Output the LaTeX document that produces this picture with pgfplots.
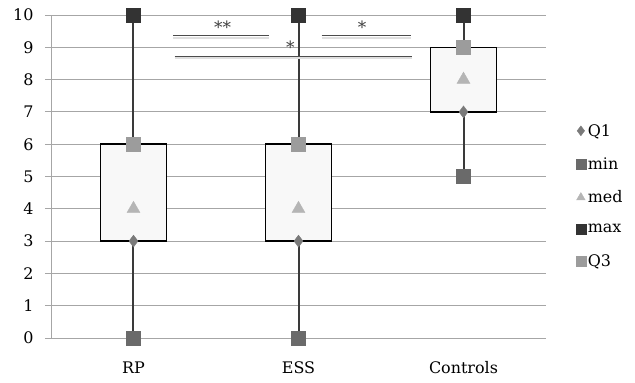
\documentclass[border=0pt]{standalone}
\usepackage{fontspec}
\setmainfont{DejaVu Serif}
\usepackage{pgfplots}
\pgfplotsset{compat=1.18}
\definecolor{boxfill}{HTML}{F8F8F8}
\definecolor{whisk}{HTML}{3A3A3A}
\definecolor{cQone}{HTML}{7A7A7A}
\definecolor{cmin}{HTML}{6A6A6A}
\definecolor{cmed}{HTML}{B5B5B5}
\definecolor{cmax}{HTML}{333333}
\definecolor{cQthree}{HTML}{9C9C9C}
\definecolor{gridc}{HTML}{A6A6A6}
\pgfplotsset{whiskstyle/.style={forget plot, draw=whisk, line width=2bp},
  boxstyle/.style={forget plot, draw=black, fill=boxfill, line width=1.4bp}}
\begin{document}
\begin{tikzpicture}
\begin{axis}[
  scale only axis, width=495bp, height=323bp,
  xmin=0.5, xmax=3.5, ymin=0, ymax=10,
  axis lines*=left,
  axis line style={gridc, line width=0.9bp},
  ytick={0,1,...,10},
  xtick={1,2,3}, xticklabels={RP,ESS,Controls},
  x tick style={draw=none},
  y tick style={gridc, line width=0.9bp},
  ytick align=outside, major tick length=6bp,
  extra x ticks={0.5,1.5,2.5,3.5}, extra x tick labels={},
  extra x tick style={tick align=outside, major tick length=5bp, grid=none, tick style={draw=gridc, line width=0.9bp}},
  ymajorgrids, grid style={gridc, line width=0.9bp},
  tick label style={font=\fontsize{16}{19}\selectfont},
  /pgf/number format/assume math mode=true,
  yticklabel style={xshift=-8bp},
  xticklabel style={yshift=-20bp},
  clip=false,
  legend style={at={(1.06,0.44)}, anchor=west, draw=none, fill=none,
    font=\fontsize{16}{19}\selectfont, row sep=16bp, inner sep=0pt},
  legend cell align=left,
  legend image post style={mark size=5},
]
% whiskers (min to max)
\addplot[whiskstyle] coordinates {(1,0) (1,10)};
\addplot[whiskstyle] coordinates {(2,0) (2,10)};
\addplot[whiskstyle] coordinates {(3,5) (3,10)};
% boxes (Q1 to Q3)
\addplot[boxstyle] coordinates {(0.8,3) (1.2,3) (1.2,6) (0.8,6)} -- cycle;
\addplot[boxstyle] coordinates {(1.8,3) (2.2,3) (2.2,6) (1.8,6)} -- cycle;
\addplot[boxstyle] coordinates {(2.8,7) (3.2,7) (3.2,9) (2.8,9)} -- cycle;
% markers
\addplot[only marks, mark=diamond*, mark size=6, color=cQone] coordinates {(1,3) (2,3) (3,7)};
\addlegendentry{Q1}
\addplot[only marks, mark=square*, mark size=7, color=cmin] coordinates {(1,0) (2,0) (3,5)};
\addlegendentry{min}
\addplot[only marks, mark=triangle*, mark size=7.5, color=cmed] coordinates {(1,4) (2,4) (3,8)};
\addlegendentry{med}
\addplot[only marks, mark=square*, mark size=7, color=cmax] coordinates {(1,10) (2,10) (3,10)};
\addlegendentry{max}
\addplot[only marks, mark=square*, mark size=7, color=cQthree] coordinates {(1,6) (2,6) (3,9)};
\addlegendentry{Q3}
% significance annotations
\draw[gray!25, line width=2bp] ([yshift=-1.8bp]axis cs:1.24,9.35) -- ([yshift=-1.8bp]axis cs:1.82,9.35);
\draw[gray!25, line width=2bp] ([yshift=-1.8bp]axis cs:2.14,9.35) -- ([yshift=-1.8bp]axis cs:2.68,9.35);
\draw[gray!25, line width=2bp] ([yshift=-1.8bp]axis cs:1.25,8.73) -- ([yshift=-1.8bp]axis cs:2.69,8.73);
\draw[black!70, line width=1bp] (axis cs:1.24,9.35) -- (axis cs:1.82,9.35);
\draw[black!70, line width=1bp] (axis cs:2.14,9.35) -- (axis cs:2.68,9.35);
\draw[black!70, line width=1bp] (axis cs:1.25,8.73) -- (axis cs:2.69,8.73);
\node[font=\fontsize{17}{19}\selectfont, text=black!75] at (axis cs:1.54,9.62) {**};
\node[font=\fontsize{17}{19}\selectfont, text=black!75] at (axis cs:2.385,9.62) {*};
\node[font=\fontsize{17}{19}\selectfont, text=black!75] at (axis cs:1.95,8.99) {*};
\end{axis}
\path[use as bounding box] ([xshift=-51bp,yshift=-45bp]current axis.south west) rectangle ++(635bp,383bp);
\end{tikzpicture}
\end{document}
